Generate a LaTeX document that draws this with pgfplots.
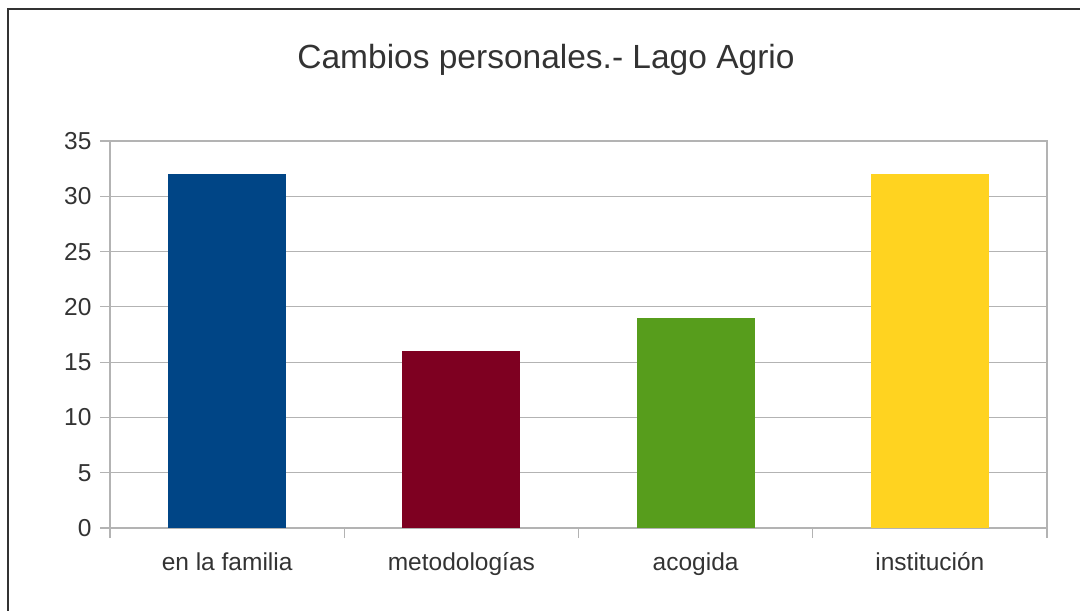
\documentclass[border=0pt]{standalone}
\usepackage{pgfplots}
\pgfplotsset{compat=1.18}
\usepackage{fontspec}
\setmainfont{Liberation Sans}
\definecolor{txt}{HTML}{333333}
\definecolor{gridc}{HTML}{B3B3B3}
\definecolor{c1}{HTML}{004586}
\definecolor{c2}{HTML}{7E0021}
\definecolor{c3}{HTML}{579D1C}
\definecolor{c4}{HTML}{FFD320}
\begin{document}
\begin{tikzpicture}[x=1pt,y=1pt]
\path[use as bounding box] (0,0) rectangle (1080,611);
\draw[txt,line width=1.5pt] (8,0) -- (8,602) -- (1080,602);
\node[txt,font=\fontsize{33.5}{40}\selectfont] at (546,551) {Cambios personales.- Lago Agrio};
\begin{axis}[
  at={(110pt,83pt)}, anchor=south west,
  scale only axis, width=937pt, height=387pt,
  xmin=-0.5, xmax=3.5, ymin=0, ymax=35,
  ytick={0,5,...,35},
  xtick={-0.5,0.5,1.5,2.5,3.5},
  xticklabels={},
  extra x ticks={0,1,2,3},
  extra x tick labels={en la familia,metodologías,acogida,institución},
  extra x tick style={grid=none, major tick length=0pt},
  axis line style={gridc, line width=1.2pt},
  ymajorgrids, grid style={gridc, line width=1pt},
  tick align=outside, ytick pos=left, xtick pos=bottom,
  major tick length=10pt,
  every tick/.style={draw=gridc, line width=1.2pt},
  /pgf/number format/assume math mode=true,
  tick label style={txt, font=\fontsize{24.5}{29}\selectfont},
  xticklabel style={yshift=-21pt},
  yticklabel style={xshift=-5pt},
  ybar, bar width=118pt, bar shift=0pt,
]
\addplot[fill=c1, draw=none] coordinates {(0,32)};
\addplot[fill=c2, draw=none] coordinates {(1,16)};
\addplot[fill=c3, draw=none] coordinates {(2,19)};
\addplot[fill=c4, draw=none] coordinates {(3,32)};
\end{axis}
\end{tikzpicture}
\end{document}
